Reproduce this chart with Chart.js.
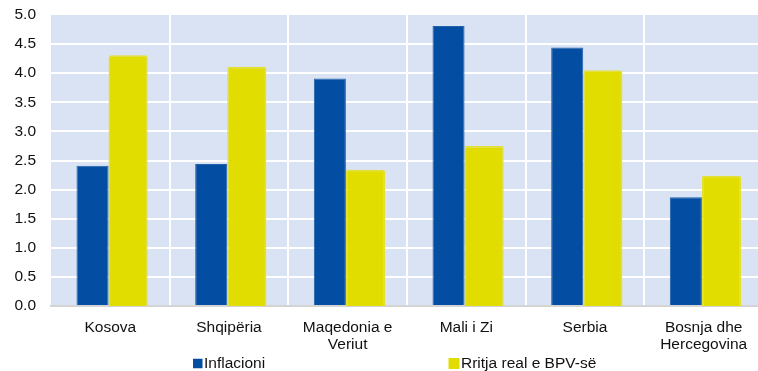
<!DOCTYPE html>
<html>
<head>
<meta charset="utf-8">
<script src="https://cdn.jsdelivr.net/npm/chart.js@4/dist/chart.umd.min.js"></script>
<style>
  html, body { margin: 0; padding: 0; overflow: hidden; background: #ffffff; }
  #wrap { width: 763px; height: 371px; }
</style>
</head>
<body>
<div id="wrap"><canvas id="c" width="763" height="371"></canvas></div>
<script>
// Countries along the category axis (multi-line where the label wraps)
const categories = [
  'Kosova',
  'Shqipëria',
  ['Maqedonia e', 'Veriut'],
  'Mali i Zi',
  'Serbia',
  ['Bosnja dhe', 'Hercegovina']
];
// Inflation, %
const inflacioni = [2.41, 2.44, 3.91, 4.81, 4.44, 1.87];
// Real GDP growth, %
const rritjaBPV = [4.31, 4.11, 2.34, 2.75, 4.05, 2.24];
// Value-axis ticks
const yTicks = [0, 0.5, 1, 1.5, 2, 2.5, 3, 3.5, 4, 4.5, 5];

const seriesNames = ['Inflacioni', 'Rritja real e BPV-së'];
const BLUE = '#034ea2';
const YELLOW = '#e1dd00';
const FONT = 'Arial, "Liberation Sans", sans-serif';

// Light blue plot background
const plotBackground = {
  id: 'plotBackground',
  beforeDraw(chart) {
    const { ctx, chartArea: a } = chart;
    ctx.save();
    ctx.fillStyle = '#dae3f3';
    ctx.fillRect(a.left, a.top, a.right - a.left, a.bottom - a.top);
    ctx.restore();
  }
};

// Legend row under the category labels
const bottomLegend = {
  id: 'bottomLegend',
  afterDraw(chart, args, opts) {
    const { ctx } = chart;
    ctx.save();
    ctx.font = '15.5px ' + FONT;
    ctx.textBaseline = 'middle';
    ctx.textAlign = 'left';
    opts.items.forEach(it => {
      ctx.fillStyle = it.color;
      ctx.fillRect(it.x, opts.y - it.size / 2, it.size, it.size);
      ctx.fillStyle = '#111111';
      ctx.fillText(it.text, it.x + it.size + 1.5, opts.y + 0.5);
    });
    ctx.restore();
  }
};

new Chart(document.getElementById('c'), {
  type: 'bar',
  data: {
    labels: categories,
    datasets: [
      {
        label: seriesNames[0],
        data: inflacioni,
        backgroundColor: BLUE,
        borderColor: '#2160ab',
        borderWidth: 1,
        barPercentage: 0.9,
        categoryPercentage: 0.6
      },
      {
        label: seriesNames[1],
        data: rritjaBPV,
        backgroundColor: YELLOW,
        borderColor: '#e4e030',
        borderWidth: 1.5,
        borderRadius: 2,
        borderSkipped: false,
        base: -0.035,
        barPercentage: 1.1,
        categoryPercentage: 0.6
      }
    ]
  },
  options: {
    responsive: false,
    animation: false,
    devicePixelRatio: 1,
    layout: { padding: { top: 15, left: 0, right: 0, bottom: 0 } },
    plugins: {
      legend: { display: false },
      tooltip: { enabled: false },
      bottomLegend: {
        y: 363.5,
        items: [
          { x: 193, size: 9.5, color: BLUE, text: seriesNames[0] },
          { x: 448.5, size: 11, color: YELLOW, text: seriesNames[1] }
        ]
      }
    },
    scales: {
      x: {
        offset: true,
        grid: {
          offset: true,
          drawTicks: false,
          lineWidth: 2,
          color: (c) => (c.index === 0 ? 'rgba(0,0,0,0)' : '#ffffff')
        },
        border: { display: true, color: '#d4d4d4', width: 2 },
        ticks: {
          color: '#111111',
          font: { family: FONT, size: 15.5, lineHeight: 1.1 },
          padding: 13,
          maxRotation: 0,
          autoSkip: false
        },
        afterFit(scale) {
          scale.height = 65;
          scale.paddingLeft = 0;
          scale.paddingRight = 0;
        }
      },
      y: {
        min: 0,
        max: 5,
        afterBuildTicks(scale) { scale.ticks = yTicks.map(v => ({ value: v })); },
        grid: {
          drawTicks: false,
          lineWidth: 2,
          color: (c) => (c.tick && (c.tick.value === 0 || c.tick.value === 5) ? 'rgba(0,0,0,0)' : '#ffffff')
        },
        border: { display: false },
        ticks: {
          color: '#111111',
          font: { family: FONT, size: 15.5 },
          padding: 15,
          callback: (v) => Number(v).toFixed(1)
        },
        afterFit(scale) {
          scale.width = 51;
          scale.paddingTop = 0;
          scale.paddingBottom = 0;
        }
      }
    }
  },
  plugins: [plotBackground, bottomLegend]
});
</script>
</body>
</html>
